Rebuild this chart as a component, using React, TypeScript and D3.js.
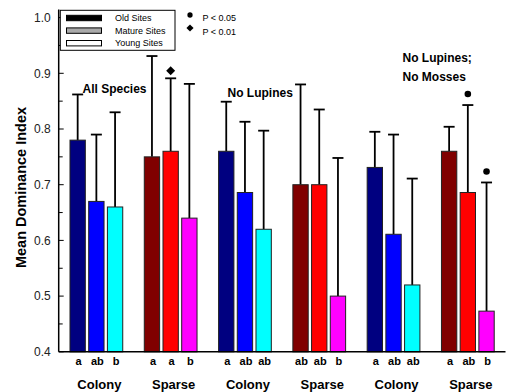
import React, { useEffect, useRef } from 'react';
import * as d3 from 'd3';

// six site groups, three age classes each
const groups = ['g1', 'g2', 'g3', 'g4', 'g5', 'g6'];
const groupNames = ['Colony', 'Sparse', 'Colony', 'Sparse', 'Colony', 'Sparse'];
const ages = ['Old', 'Mature', 'Young'];
const means = [
  [0.78, 0.67, 0.66],
  [0.75, 0.76, 0.64],
  [0.76, 0.686, 0.62],
  [0.70, 0.70, 0.50],
  [0.731, 0.611, 0.52],
  [0.76, 0.686, 0.473],
];
const errTops = [
  [0.862, 0.79, 0.83],
  [0.931, 0.891, 0.881],
  [0.849, 0.813, 0.797],
  [0.88, 0.835, 0.748],
  [0.795, 0.79, 0.711],
  [0.804, 0.843, 0.704],
];
const letters = [
  ['a', 'ab', 'b'],
  ['a', 'a', 'b'],
  ['a', 'ab', 'ab'],
  ['ab', 'ab', 'b'],
  ['a', 'ab', 'ab'],
  ['a', 'ab', 'b'],
];
// significance markers: '' none, 'dot' P<0.05, 'diamond' P<0.01
const marks = [
  ['', '', ''],
  ['', 'diamond', ''],
  ['', '', ''],
  ['', '', ''],
  ['', '', ''],
  ['', 'dot', 'dot'],
];
const colonyColors = ['#000080', '#0000ff', '#00ffff'];
const sparseColors = ['#800000', '#ff0000', '#ff00ff'];
const yTicks = [0.4, 0.5, 0.6, 0.7, 0.8, 0.9, 1.0];
const legendItems = [
  { label: 'Old Sites', fill: '#000000' },
  { label: 'Mature Sites', fill: '#aaaaaa' },
  { label: 'Young Sites', fill: '#ffffff' },
];

const FONT = 'Liberation Sans, Arial, Helvetica, sans-serif';

// little helper for the marker glyphs (diamond = rotated square)
function drawMarker(sel: any, kind: string, cx: number, cy: number, scale = 1) {
  if (kind === 'dot') {
    sel.append('circle')
      .attr('cx', cx).attr('cy', cy).attr('r', 3.3 * scale)
      .attr('fill', '#000');
  } else {
    sel.append('path')
      .attr('transform', `translate(${cx},${cy}) rotate(45)`)
      .attr('d', d3.symbol(d3.symbolSquare, 40 * scale * scale)())
      .attr('fill', '#000');
  }
}

export default function App() {
  const ref = useRef<SVGSVGElement>(null);

  useEffect(() => {
    const width = 522;
    const height = 392;
    const axisX = 58.7;
    const axisRight = 505.5;

    const svg = d3.select(ref.current);
    svg.selectAll('*').remove();
    svg.attr('width', width).attr('height', height);

    const y = d3.scaleLinear().domain([0.4, 1.0]).range([351.8, 17.6]);
    const x0 = d3.scaleBand<string>()
      .domain(groups)
      .range([axisX, axisRight])
      .paddingInner(0.29)
      .paddingOuter(0.152);
    const x1 = d3.scaleBand<string>()
      .domain(ages)
      .range([0, x0.bandwidth()])
      .paddingInner(0.18)
      .paddingOuter(0);

    // y axis
    const yAxis = svg.append('g').attr('transform', `translate(${axisX},0)`);
    yAxis.append('line')
      .attr('x1', 0).attr('x2', 0)
      .attr('y1', y(1.0) - 8).attr('y2', y(0.4))
      .attr('stroke', '#000').attr('stroke-width', 1.5);
    const minor = d3.range(0.45, 1.0, 0.1);
    yAxis.selectAll('line.minor')
      .data(minor)
      .enter()
      .append('line')
      .attr('class', 'minor')
      .attr('x1', 0).attr('x2', 4)
      .attr('y1', d => y(d)).attr('y2', d => y(d))
      .attr('stroke', '#000').attr('stroke-width', 1);
    yAxis.selectAll('line.major')
      .data(yTicks)
      .enter()
      .append('line')
      .attr('class', 'major')
      .attr('x1', 0).attr('x2', 5)
      .attr('y1', d => y(d)).attr('y2', d => y(d))
      .attr('stroke', '#000').attr('stroke-width', 1);
    yAxis.selectAll('text.tick')
      .data(yTicks)
      .enter()
      .append('text')
      .attr('class', 'tick')
      .attr('x', -8)
      .attr('y', d => y(d))
      .attr('dy', '0.36em')
      .attr('text-anchor', 'end')
      .style('font-family', FONT)
      .style('font-size', '12px')
      .attr('fill', '#222')
      .text(d => d3.format('.1f')(d));

    svg.append('text')
      .attr('transform', `translate(26,187.5) rotate(-90)`)
      .attr('text-anchor', 'middle')
      .style('font-family', FONT)
      .style('font-size', '14.5px')
      .style('font-weight', 'bold')
      .text('Mean Dominance Index');

    // bars
    const gs = svg.selectAll('g.group')
      .data(groups)
      .enter()
      .append('g')
      .attr('class', 'group')
      .attr('transform', d => `translate(${x0(d)},0)`);

    gs.each(function (g, gi) {
      const sel = d3.select(this);
      const colors = gi % 2 === 0 ? colonyColors : sparseColors;
      ages.forEach((a, ai) => {
        const bx = x1(a) as number;
        const bw = x1.bandwidth();
        const cx = bx + bw / 2;
        // error bar (upper only)
        sel.append('line')
          .attr('x1', cx).attr('x2', cx)
          .attr('y1', y(means[gi][ai])).attr('y2', y(errTops[gi][ai]))
          .attr('stroke', '#000').attr('stroke-width', 1.8);
        sel.append('line')
          .attr('x1', cx - 5.5).attr('x2', cx + 5.5)
          .attr('y1', y(errTops[gi][ai])).attr('y2', y(errTops[gi][ai]))
          .attr('stroke', '#000').attr('stroke-width', 1.8);
        sel.append('rect')
          .attr('x', bx)
          .attr('y', y(means[gi][ai]))
          .attr('width', bw)
          .attr('height', y(0.4) - y(means[gi][ai]))
          .attr('fill', colors[ai])
          .attr('stroke', '#222')
          .attr('stroke-width', 1);
        sel.append('text')
          .attr('x', cx + 1)
          .attr('y', 365)
          .attr('text-anchor', 'middle')
          .style('font-family', FONT)
          .style('font-size', '11px')
          .style('font-weight', 'bold')
          .text(letters[gi][ai]);
        const m = marks[gi][ai];
        if (m) {
          drawMarker(sel, m, cx, y(errTops[gi][ai]) - (m === 'dot' ? 11 : 7.5));
        }
      });
      sel.append('text')
        .attr('x', x0.bandwidth() / 2 + 3)
        .attr('y', 389)
        .attr('text-anchor', 'middle')
        .style('font-family', FONT)
        .style('font-size', '13px')
        .style('font-weight', 'bold')
        .text(groupNames[gi]);
    });

    // x axis baseline
    svg.append('line')
      .attr('x1', axisX).attr('x2', axisRight)
      .attr('y1', y(0.4)).attr('y2', y(0.4))
      .attr('stroke', '#000').attr('stroke-width', 1.5);

    // panel captions
    const captions = [
      { text: 'All Species', x: 82.5, y: 93 },
      { text: 'No Lupines', x: 227.5, y: 97 },
      { text: 'No Lupines;', x: 402.5, y: 62 },
      { text: 'No Mosses', x: 402.5, y: 81 },
    ];
    svg.selectAll('text.caption')
      .data(captions)
      .enter()
      .append('text')
      .attr('class', 'caption')
      .attr('x', d => d.x)
      .attr('y', d => d.y)
      .style('font-family', FONT)
      .style('font-size', '12px')
      .style('font-weight', 'bold')
      .text(d => d.text);

    // legend
    const lg = svg.append('g');
    lg.append('rect')
      .attr('x', 60.3).attr('y', 10.3)
      .attr('width', 114.7).attr('height', 40)
      .attr('fill', '#fff').attr('stroke', '#000').attr('stroke-width', 1);
    legendItems.forEach((it, i) => {
      const cy = 18 + i * 12.6;
      lg.append('rect')
        .attr('x', 66.5).attr('y', cy - 2.7)
        .attr('width', 35).attr('height', 5.4)
        .attr('fill', it.fill).attr('stroke', '#000').attr('stroke-width', 1);
      lg.append('text')
        .attr('x', 115).attr('y', cy)
        .attr('dy', '0.35em')
        .style('font-family', FONT)
        .style('font-size', '9px')
        .text(it.label);
    });
    const sig = [
      { kind: 'dot', label: 'P < 0.05', sy: 15, ty: 18 },
      { kind: 'diamond', label: 'P < 0.01', sy: 28, ty: 32 },
    ];
    sig.forEach(s => {
      drawMarker(lg, s.kind, 190, s.sy, 0.8);
      lg.append('text')
        .attr('x', 202.5).attr('y', s.ty)
        .attr('dy', '0.35em')
        .style('font-family', FONT)
        .style('font-size', '9px')
        .text(s.label);
    });
  }, []);

  return (
    <svg ref={ref} style={{ position: 'absolute', left: 0, top: 0, background: '#fff' }} />
  );
}
